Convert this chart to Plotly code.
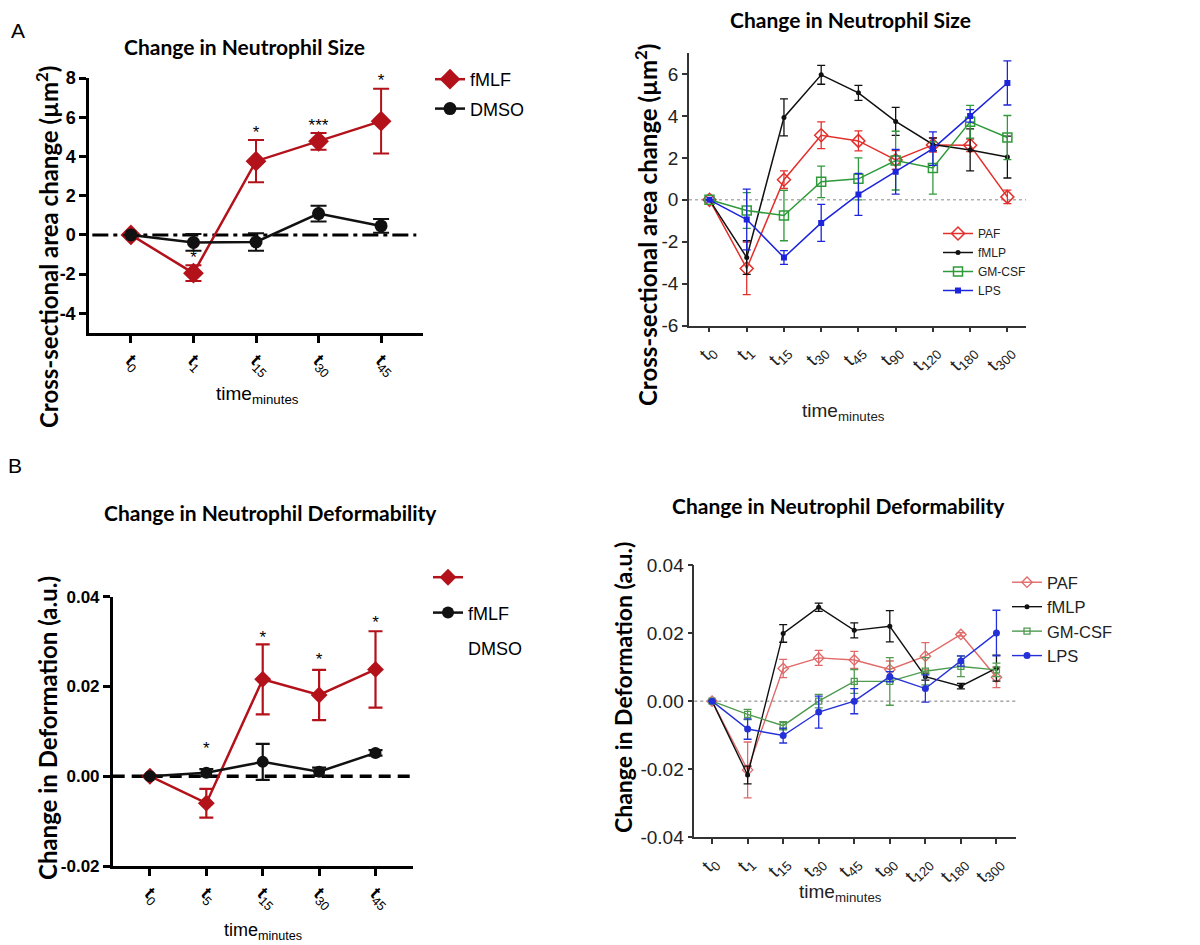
import plotly.graph_objects as go

W, H = 1200, 945
OFF = 8  # page body margin of the html page

# ---------------- data ----------------
A_cats = ["0", "1", "15", "30", "45"]
A_fmlf = [0, -1.95, 3.76, 4.77, 5.8]
A_fmlf_err = [0, 0.4, 1.08, 0.43, 1.65]
A_dmso = [0, -0.38, -0.36, 1.09, 0.46]
A_dmso_err = [0, 0.43, 0.45, 0.4, 0.35]
A_star_idx = [1, 2, 3, 4]
A_star_txt = ["*", "*", "***", "*"]
A_star_y = [-1.2, 5.15, 5.5, 7.8]
A_yticks = [-4, -2, 0, 2, 4, 6, 8]

R_cats = ["0", "1", "15", "30", "45", "90", "120", "180", "300"]
AR_paf = [0, -3.27, 0.96, 3.08, 2.81, 1.9, 2.62, 2.6, 0.14]
AR_paf_err = [0, 1.25, 0.42, 0.64, 0.48, 0.45, 0.35, 0.3, 0.32]
AR_fmlp = [0, -2.75, 3.93, 5.96, 5.1, 3.74, 2.64, 2.38, 2.04]
AR_fmlp_err = [0, 0.8, 0.88, 0.45, 0.36, 0.67, 0.3, 1.0, 1.0]
AR_gm = [0, -0.51, -0.75, 0.86, 1.0, 1.87, 1.52, 3.72, 2.97]
AR_gm_err = [0, 0.85, 1.2, 0.75, 1.0, 1.4, 1.25, 0.78, 1.05]
AR_lps = [0, -0.94, -2.75, -1.1, 0.26, 1.34, 2.44, 4.0, 5.57]
AR_lps_err = [0, 1.45, 0.33, 0.88, 1.0, 1.07, 0.8, 0.3, 1.05]
AR_yticks = [-6, -4, -2, 0, 2, 4, 6]

B_cats = ["0", "5", "15", "30", "45"]
B_fmlf = [0, -0.006, 0.0216, 0.0181, 0.0238]
B_fmlf_err = [0, 0.0032, 0.0078, 0.0056, 0.0085]
B_dmso = [0, 0.0008, 0.0032, 0.001, 0.0052]
B_dmso_err = [0, 0.0008, 0.004, 0.0009, 0.0006]
B_star_idx = [1, 2, 3, 4]
B_star_txt = ["*", "*", "*", "*"]
B_star_y = [0.0058, 0.0307, 0.0257, 0.0339]
B_yticks = [-0.02, 0, 0.02, 0.04]

BR_paf = [0, -0.0202, 0.0096, 0.0127, 0.0121, 0.0093, 0.0132, 0.0196, 0.007]
BR_paf_err = [0, 0.0082, 0.0027, 0.0022, 0.0025, 0.0025, 0.004, 0.0005, 0.003]
BR_fmlp = [0, -0.0217, 0.0199, 0.0276, 0.0208, 0.022, 0.0072, 0.0044, 0.0097]
BR_fmlp_err = [0, 0.0026, 0.0026, 0.0012, 0.0022, 0.0046, 0.001, 0.0008, 0.0038]
BR_gm = [0, -0.0039, -0.0072, 0.0, 0.0058, 0.0058, 0.0088, 0.0102, 0.0092]
BR_gm_err = [0, 0.0015, 0.0012, 0.002, 0.0035, 0.007, 0.004, 0.003, 0.002]
BR_lps = [0, -0.0082, -0.0101, -0.0032, 0.0, 0.0072, 0.0037, 0.0118, 0.02]
BR_lps_err = [0, 0.003, 0.0022, 0.0047, 0.0037, 0.0015, 0.004, 0.0015, 0.0067]
BR_yticks = [-0.04, -0.02, 0, 0.02, 0.04]

# ---------------- styles ----------------
DARKRED = "#b3121b"
RED = "#e3302c"
GREEN = "#2f9a3a"
BLUE = "#1c24dc"
BLK = "#111111"
BR_RED = "#e06a6a"
BR_GREEN = "#4f9a4f"
BR_BLUE = "#2430d8"

TITLE_FONT = dict(family="Lato, Open Sans, sans-serif", size=21, color="black", weight="bold")
YT_FONT = dict(family="Lato, Open Sans, sans-serif", size=24, color="black", weight="bold")
ARIAL = "Liberation Sans, Arial, sans-serif"


def px(x):
    return (x - OFF) / W


def py(y):
    return 1 - (y - OFF) / H


fig = go.Figure()


def series(x, y, err, color, name, symbol, msize, lw, xa, ya, legend, group, cap=6, ethick=1.5, mline=None):
    marker = dict(symbol=symbol, size=msize, color=color)
    if mline:
        marker["line"] = mline
    fig.add_trace(go.Scatter(
        x=x, y=y, name=name, mode="lines+markers",
        line=dict(color=color, width=lw), marker=marker,
        error_y=dict(type="data", array=err, visible=True, color=color, thickness=ethick, width=cap),
        xaxis=xa, yaxis=ya, legend=legend, legendgroup=group, showlegend=True,
    ))


A_x = list(range(len(A_cats)))
R_x = list(range(len(R_cats)))
B_x = list(range(len(B_cats)))

# Panel A left
series(A_x, A_fmlf, A_fmlf_err, DARKRED, "fMLF", "diamond", 16, 2.5, "x", "y", "legend", "a1", cap=8, ethick=2)
series(A_x, A_dmso, A_dmso_err, BLK, "DMSO", "circle", 13, 2.5, "x", "y", "legend", "a2", cap=8, ethick=2)
fig.add_trace(go.Scatter(x=A_star_idx, y=A_star_y, text=A_star_txt, mode="text", cliponaxis=False,
                         textfont=dict(family=ARIAL, size=17, color="black"),
                         xaxis="x", yaxis="y", showlegend=False, hoverinfo="skip"))

# Panel A right
series(R_x, AR_paf, AR_paf_err, RED, "PAF", "diamond-open", 10, 1.5, "x2", "y2", "legend2", "b1", cap=4, ethick=1.3,
       mline=dict(width=1.5, color=RED))
series(R_x, AR_fmlp, AR_fmlp_err, BLK, "fMLP", "circle", 5, 1.5, "x2", "y2", "legend2", "b2", cap=4, ethick=1.3)
series(R_x, AR_gm, AR_gm_err, GREEN, "GM-CSF", "square-open", 9, 1.5, "x2", "y2", "legend2", "b3", cap=4, ethick=1.3,
       mline=dict(width=1.5, color=GREEN))
series(R_x, AR_lps, AR_lps_err, BLUE, "LPS", "square", 6, 1.5, "x2", "y2", "legend2", "b4", cap=4, ethick=1.3)

# Panel B left
series(B_x, B_fmlf, B_fmlf_err, DARKRED, " ", "diamond", 13, 2.5, "x3", "y3", "legend3", "c1", cap=7, ethick=2.2)
series(B_x, B_dmso, B_dmso_err, BLK, "fMLF", "circle", 12, 2.5, "x3", "y3", "legend3", "c2", cap=7, ethick=2.2)
fig.add_trace(go.Scatter(x=[None], y=[None], name="DMSO", mode="lines",
                         line=dict(color="rgba(0,0,0,0)", width=0),
                         xaxis="x3", yaxis="y3", legend="legend3", legendgroup="c3"))
fig.add_trace(go.Scatter(x=B_star_idx, y=B_star_y, text=B_star_txt, mode="text", cliponaxis=False,
                         textfont=dict(family=ARIAL, size=17, color="black"),
                         xaxis="x3", yaxis="y3", showlegend=False, hoverinfo="skip"))

# Panel B right
series(R_x, BR_paf, BR_paf_err, BR_RED, "PAF", "diamond-open", 8, 1.4, "x4", "y4", "legend4", "d1", cap=4, ethick=1.3,
       mline=dict(width=1.3, color=BR_RED))
series(R_x, BR_fmlp, BR_fmlp_err, BLK, "fMLP", "circle", 5, 1.4, "x4", "y4", "legend4", "d2", cap=4, ethick=1.3)
series(R_x, BR_gm, BR_gm_err, BR_GREEN, "GM-CSF", "square-open", 6, 1.4, "x4", "y4", "legend4", "d3", cap=4, ethick=1.3,
       mline=dict(width=1.3, color=BR_GREEN))
series(R_x, BR_lps, BR_lps_err, BR_BLUE, "LPS", "circle", 7, 1.4, "x4", "y4", "legend4", "d4", cap=4, ethick=1.3)

# ---------------- axes ----------------
bold_ticks = dict(family=ARIAL, size=18, color="black", weight="bold")
reg_ticks = dict(family=ARIAL, size=19, color="#222222")


def ylabels(vals, fmt):
    return [fmt.format(v) for v in vals]


def xax(domain, rng, cats, anchor, bold, angle, lw, tickfont):
    if bold:
        tt = ["<b>t</b><sub>%s</sub>" % c for c in cats]
    else:
        tt = ["t<sub>%s</sub>" % c for c in cats]
    return dict(domain=domain, range=rng, anchor=anchor, tickmode="array",
                tickvals=list(range(len(cats))), ticktext=tt, tickangle=angle,
                showline=True, linecolor="black" if bold else "#333333", linewidth=lw,
                ticks="outside", ticklen=7 if bold else 5, tickwidth=lw, tickcolor="black" if bold else "#333333",
                showgrid=False, zeroline=False, tickfont=tickfont, fixedrange=True, automargin=False)


def yax(domain, rng, vals, anchor, bold, lw, tickfont, fmt):
    return dict(domain=domain, range=rng, anchor=anchor, tickmode="array", tickvals=vals,
                ticktext=ylabels(vals, fmt),
                showline=True, linecolor="black" if bold else "#333333", linewidth=lw,
                ticks="outside", ticklen=7 if bold else 5, tickwidth=lw, tickcolor="black" if bold else "#333333",
                showgrid=False, zeroline=False, tickfont=tickfont, fixedrange=True, automargin=False)


xt_bold = dict(family=ARIAL, size=18, color="black")
xt_reg = dict(family=ARIAL, size=19, color="#222222")

fig.update_layout(
    xaxis=xax([px(89), px(423)], [-0.67, 4.67], A_cats, "y", True, 45, 2.5, xt_bold),
    yaxis=yax([py(333), py(78)], [-5, 8], A_yticks, "x", True, 2.5, bold_ticks, "{:g}"),
    xaxis2=xax([px(689), px(1026)], [-0.55, 8.5], R_cats, "y2", False, -45, 1.5, xt_reg),
    yaxis2=yax([py(325.7), py(53)], [-6, 7], AR_yticks, "x2", False, 1.5, reg_ticks, "{:g}"),
    xaxis3=xax([px(112.7), px(413.3)], [-0.66, 4.67], B_cats, "y3", True, 45, 2.5, xt_bold),
    yaxis3=yax([py(866), py(596.7)], [-0.02, 0.04], B_yticks, "x3", True, 2.5,
               dict(family=ARIAL, size=17, color="black", weight="bold"), "{:.2f}"),
    xaxis4=xax([px(694.3), px(1016)], [-0.5, 8.55], R_cats, "y4", False, -45, 1.5, xt_reg),
    yaxis4=yax([py(837.3), py(565)], [-0.04, 0.04], BR_yticks, "x4", False, 1.5, reg_ticks, "{:.2f}"),
)

# ---------------- legends ----------------
fig.update_layout(
    legend=dict(x=px(430), y=py(61), xanchor="left", yanchor="top", bgcolor="rgba(0,0,0,0)",
                font=dict(family=ARIAL, size=18, color="black"), tracegroupgap=3),
    legend2=dict(x=px(938), y=py(219), xanchor="left", yanchor="top", bgcolor="rgba(0,0,0,0)",
                 font=dict(family=ARIAL, size=12, color="#222222"), tracegroupgap=0),
    legend3=dict(x=px(428), y=py(559), xanchor="left", yanchor="top", bgcolor="rgba(0,0,0,0)",
                 font=dict(family=ARIAL, size=18, color="black"), tracegroupgap=9),
    legend4=dict(x=px(1007), y=py(565), xanchor="left", yanchor="top", bgcolor="rgba(0,0,0,0)",
                 font=dict(family=ARIAL, size=16.5, color="#222222"), tracegroupgap=0),
)

# ---------------- zero lines ----------------
fig.add_shape(type="line", xref="x domain", yref="y", x0=0.01, x1=0.98, y0=0, y1=0,
              line=dict(color="black", width=3, dash="16px,5px,4px,5px"), layer="below")
fig.add_shape(type="line", xref="x2 domain", yref="y2", x0=0.0, x1=1.0, y0=0, y1=0,
              line=dict(color="#888888", width=1, dash="dot"), layer="below")
fig.add_shape(type="line", xref="x3 domain", yref="y3", x0=0.0, x1=1.0, y0=0, y1=0,
              line=dict(color="black", width=3.5, dash="12px,7px"), layer="below")
fig.add_shape(type="line", xref="x4 domain", yref="y4", x0=0.0, x1=1.0, y0=0, y1=0,
              line=dict(color="#777777", width=1, dash="dot"), layer="below")

# ---------------- text annotations ----------------
def ann(text, x, y, font, angle=0):
    fig.add_annotation(text=text, x=px(x), y=py(y), xref="paper", yref="paper",
                       xanchor="center", yanchor="middle", showarrow=False, font=font, textangle=angle)


ann("Change in Neutrophil Size", 244, 47, TITLE_FONT)
ann("Change in Neutrophil Size", 850, 19, TITLE_FONT)
ann("Change in Neutrophil Deformability", 270, 512, TITLE_FONT)
ann("Change in Neutrophil Deformability", 838, 505, TITLE_FONT)

ann("Cross-sectional area change (µm<sup>2</sup>)", 47, 247, YT_FONT, -90)
ann("Cross-sectional area change (µm<sup>2</sup>)", 646, 225, YT_FONT, -90)
ann("Change in Deformation (a.u.)", 47, 728, YT_FONT, -90)
ann("Change in Deformation (a.u.)", 623, 688, dict(YT_FONT, size=23), -90)

xt_font = dict(family=ARIAL, size=19, color="black")
ann("time<sub>minutes</sub>", 257, 395, xt_font)
ann("time<sub>minutes</sub>", 843, 412, dict(xt_font, color="#222222"))
ann("time<sub>minutes</sub>", 263, 931, dict(xt_font, size=18))
ann("time<sub>minutes</sub>", 840, 893, dict(xt_font, color="#222222"))

letter_font = dict(family=ARIAL, size=21, color="black")
ann("A", 18, 31, letter_font)
ann("B", 15, 465, letter_font)

fig.update_layout(width=W, height=H, margin=dict(l=0, r=0, t=0, b=0, pad=0, autoexpand=False),
                  paper_bgcolor="white", plot_bgcolor="rgba(0,0,0,0)", showlegend=True)

fig.write_html("out.html")
